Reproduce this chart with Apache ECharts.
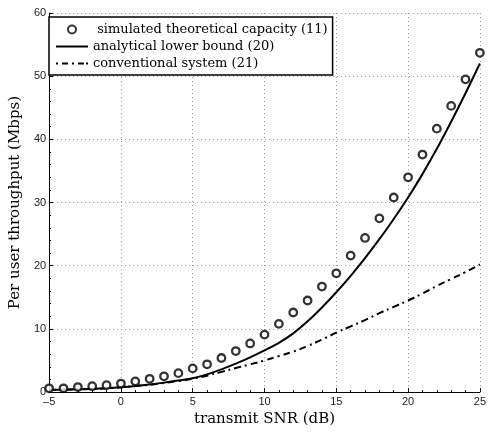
<!DOCTYPE html>
<html>
<head>
<meta charset="utf-8">
<script src="https://cdn.jsdelivr.net/npm/echarts@6/dist/echarts.min.js"></script>
<style>
  html, body { margin: 0; padding: 0; background: #fff; }
  #chart { width: 489px; height: 432px; }
</style>
</head>
<body>
<div id="chart"></div>
<script>
// Transmit SNR in dB
const snr = [-5, -4, -3, -2, -1, 0, 1, 2, 3, 4, 5, 6, 7, 8, 9, 10, 11, 12, 13, 14, 15, 16, 17, 18, 19, 20, 21, 22, 23, 24, 25];
// Per user throughput (Mbps)
const simulatedCapacity = [0.6, 0.6, 0.8, 0.94, 1.1, 1.35, 1.7, 2.1, 2.5, 3.0, 3.75, 4.4, 5.4, 6.5, 7.7, 9.1, 10.8, 12.6, 14.5, 16.7, 18.8, 21.6, 24.4, 27.5, 30.8, 34.0, 37.6, 41.7, 45.3, 49.5, 53.7];
const lowerBound = [0.35, 0.4, 0.45, 0.5, 0.6, 0.75, 0.95, 1.2, 1.5, 1.85, 2.2, 2.8, 3.6, 4.5, 5.5, 6.6, 7.8, 9.3, 11.2, 13.4, 15.8, 18.4, 21.2, 24.2, 27.4, 30.8, 34.5, 38.5, 42.8, 47.3, 52.0];
const conventional = [0.35, 0.4, 0.45, 0.5, 0.6, 0.75, 0.95, 1.15, 1.45, 1.75, 2.1, 2.6, 3.2, 3.8, 4.4, 5.0, 5.7, 6.4, 7.3, 8.3, 9.4, 10.4, 11.4, 12.5, 13.5, 14.5, 15.6, 16.8, 17.9, 19.0, 20.2];

const names = ['simulated theoretical capacity (11)', 'analytical lower bound (20)', 'conventional system (21)'];
const pairs = (ys) => snr.map((x, i) => [x, ys[i]]);

// Legend keys: a solid stroke and a dot-dash stroke
const solidKey = 'path://M0,0 L32,0 L32,2 L0,2 Z';
const dashDotKey = 'path://M0,0 L2,0 L2,2 L0,2 Z M6,0 L12,0 L12,2 L6,2 Z M16,0 L18,0 L18,2 L16,2 Z M22,0 L28,0 L28,2 L22,2 Z M30,0 L32,0 L32,2 L30,2 Z';

const serif = '"DejaVu Serif", "Liberation Serif", serif';
const sans = '"Liberation Sans", Arial, sans-serif';

const chart = echarts.init(document.getElementById('chart'), null, { renderer: 'canvas' });
chart.setOption({
  animation: false,
  backgroundColor: '#fff',
  grid: { left: 43, right: 7, top: 13, bottom: 36, containLabel: false },
  legend: {
    orient: 'vertical',
    left: 49, top: 17,
    data: [
      { name: names[0], icon: 'circle' },
      { name: names[1], icon: solidKey, itemStyle: { color: '#000', borderWidth: 0 } },
      { name: names[2], icon: dashDotKey, itemStyle: { color: '#000', borderWidth: 0 } }
    ],
    itemWidth: 32, itemHeight: 8, itemGap: 4,
    padding: [6, 5, 5, 7],
    backgroundColor: '#fff',
    borderColor: '#000', borderWidth: 1.5,
    textStyle: { fontFamily: serif, fontSize: 13, color: '#000' },
    formatter: (n) => n === names[0] ? ' ' + n : n
  },
  xAxis: {
    type: 'value', min: -5, max: 25, interval: 5,
    name: 'transmit SNR (dB)', nameLocation: 'middle', nameGap: 19,
    nameTextStyle: { fontFamily: serif, fontSize: 15, color: '#000' },
    axisLine: { onZero: false, lineStyle: { color: '#000', width: 1 } },
    axisTick: { inside: true, length: 4, lineStyle: { color: '#000' } },
    minorTick: { show: true, splitNumber: 5, length: 2, lineStyle: { color: '#000' } },
    axisLabel: { fontFamily: sans, fontSize: 11, color: '#222', margin: 4,
      formatter: (v) => String(v).replace('-', '\u2013') },
    splitLine: { show: true, lineStyle: { color: '#999', type: [1, 3], width: 1 } }
  },
  yAxis: {
    type: 'value', min: 0, max: 60, interval: 10,
    name: 'Per user throughput (Mbps)', nameLocation: 'middle', nameGap: 19,
    nameTextStyle: { fontFamily: serif, fontSize: 15, color: '#000' },
    axisLine: { show: true, onZero: false, lineStyle: { color: '#000', width: 1 } },
    axisTick: { show: true, inside: true, length: 4, lineStyle: { color: '#000' } },
    minorTick: { show: true, splitNumber: 5, length: 2, lineStyle: { color: '#000' } },
    axisLabel: { fontFamily: sans, fontSize: 11, color: '#222', margin: 3 },
    splitLine: { show: true, lineStyle: { color: '#999', type: [1, 3], width: 1 } }
  },
  series: [
    {
      name: names[1], type: 'line', data: pairs(lowerBound),
      showSymbol: false, symbol: 'none', smooth: 0.4,
      lineStyle: { color: '#000', width: 2 }, itemStyle: { color: '#000' }, z: 2
    },
    {
      name: names[2], type: 'line', data: pairs(conventional),
      showSymbol: false, symbol: 'none', smooth: 0.4,
      lineStyle: { color: '#000', width: 2, type: [7, 4, 2, 4] }, itemStyle: { color: '#000' }, z: 2
    },
    {
      name: names[0], type: 'scatter', data: pairs(simulatedCapacity),
      symbol: 'circle', symbolSize: 7.5,
      itemStyle: { color: '#fff', borderColor: '#000', borderWidth: 2.3 }, z: 3
    }
  ]
});
</script>
</body>
</html>
